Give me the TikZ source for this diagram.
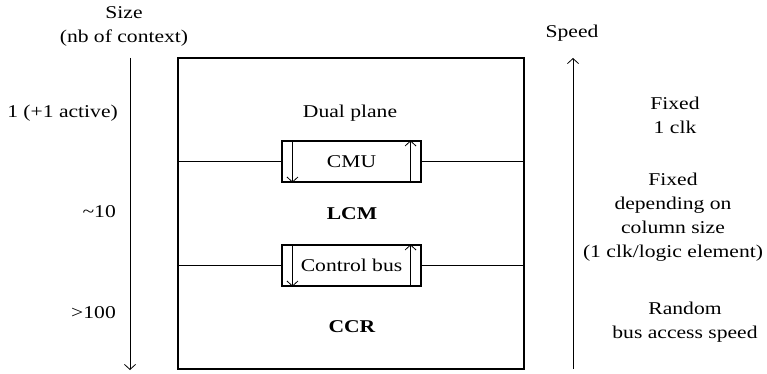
\documentclass[tikz,border=0pt]{standalone}
\usepackage{fontspec}
\setmainfont{Liberation Serif}[FakeStretch=1.2]
\usetikzlibrary{arrows.meta}
\usetikzlibrary{positioning}

\begin{document}
\begin{tikzpicture}[
    x=1pt, y=-1pt,
    font=\fontsize{18}{24}\selectfont,
    plane/.style={rectangle, draw=black, line width=1.1pt, minimum width=346pt, minimum height=311pt, inner sep=0pt},
    unit/.style={rectangle, draw=black, line width=1.1pt, minimum width=139pt, minimum height=41pt, inner sep=0pt},
    lbl/.style={align=center, inner sep=0pt},
    lane/.style={line width=0.8pt},
    axis/.style={line width=0.8pt},
    tip/.style={arrows=-{Straight Barb[length=5pt,width=11pt]}},
    ]
    \useasboundingbox (0,0) rectangle (767,374);

    % the array and its two control units
    \node[plane] (array) at (351,213.5)  {};
    \node[unit]  (cmu)   at (351.5,161.5) {CMU};
    \node[unit]  (cbus)  at (351.5,265.5) {Control bus};

    \draw [line width=1.4pt] (cmu.west -| array.west)  -- (cmu.west);
    \draw [line width=1.4pt] (cmu.east)                -- (cmu.east -| array.east);
    \draw [line width=1.1pt] (cbus.west -| array.west) -- (cbus.west);
    \draw [line width=1.1pt] (cbus.east)               -- (cbus.east -| array.east);

    \draw [lane,tip] ([xshift=11pt]cmu.north west)   -- ([xshift=11pt]cmu.south west);
    \draw [lane,tip] ([xshift=-11pt]cmu.south east)  -- ([xshift=-11pt]cmu.north east);
    \draw [lane,tip] ([xshift=11pt]cbus.north west)  -- ([xshift=11pt]cbus.south west);
    \draw [lane,tip] ([xshift=-11pt]cbus.south east) -- ([xshift=-11pt]cbus.north east);

    \node[lbl] (dual) at (350,113) {Dual plane};
    \node[lbl] (lcm)  at (352,214) {\textbf{LCM}};
    \node[lbl] (ccr)  at (352,327) {\textbf{CCR}};

    % size axis
    \coordinate (sizetop) at (130,58);
    \coordinate (sizebot) at (130,370);
    \draw [axis,tip] (sizetop) -- (sizebot);
    \node[lbl] (size) at (124,26.5) {Size\\(nb of context)};
    \node[lbl, anchor=east] (ctxdual) at (118,113) {1 (+1 active)};
    \node[lbl, anchor=east] (ctxlcm)  at (116,212) {\textasciitilde10};
    \node[lbl, anchor=east] (ctxccr)  at (116,313) {>100};

    % speed axis
    \coordinate (speedbot) at (573,369);
    \coordinate (speedtop) at (573,58);
    \draw [axis,tip] (speedbot) -- (speedtop);
    \node[lbl] (speed)    at (572,33)  {Speed};
    \node[lbl] (spddual)  at (675,115) {Fixed\\1 clk};
    \node[lbl] (spdlcm)   at (673,217) {Fixed\\depending on\\column size\\(1 clk/logic element)};
    \node[lbl] (spdccr)   at (685,322) {Random\\bus access speed};
\end{tikzpicture}
\end{document}
